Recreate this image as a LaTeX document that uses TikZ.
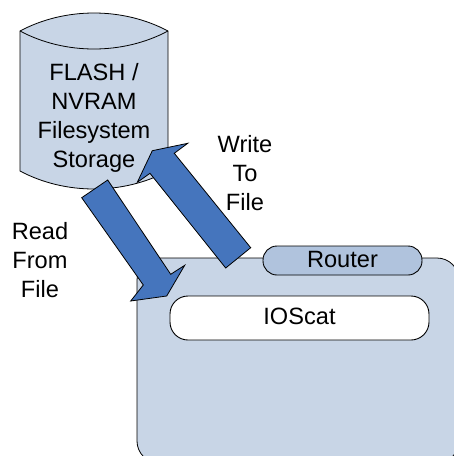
\documentclass[tikz,border=0pt]{standalone}
\usepackage{fontspec}
\setmainfont{Liberation Sans}
\usepackage{tikz}
\usetikzlibrary{positioning,calc}

\definecolor{boxblue}{HTML}{C8D5E6}
\definecolor{pillblue}{HTML}{B0C3DD}
\definecolor{arrowblue}{HTML}{4575BD}

\tikzset{
    label text/.style={align=center, font=\fontsize{23.6}{29}\selectfont, text=black},
    pill/.style={draw=black, line width=0.9pt, rounded corners=14pt, minimum height=29pt, inner sep=0pt},
    big arrow/.style={draw=black, line width=0.8pt, fill=arrowblue, line join=miter}
}

\begin{document}
\begin{tikzpicture}[x=1pt,y=-1pt]
    \useasboundingbox (0,0) rectangle (454,456);

    % Define the outlines of the drum and the router box
    \def\pathDrum{(20,31) .. controls (65,7) and (123,7) .. (168,31) -- (168,171) .. controls (123,195) and (65,195) .. (20,171) -- cycle}
    \def\pathRouter{(137,258) rectangle (459,463)}

    % Draw the storage drum
    \draw[fill=boxblue, line width=0.8pt] \pathDrum;
    \draw[line width=0.8pt] (20,31) .. controls (65,55) and (123,55) .. (168,31);

    % Draw the router box
    \draw[fill=boxblue, line width=0.8pt, rounded corners=22pt] \pathRouter;
    \node[pill, fill=pillblue, minimum width=159pt] (router) at (342.5,260.5) {};
    \node[pill, fill=white, rounded corners=18pt, minimum width=259pt, minimum height=44pt] (ioscat) at (299.5,318) {};

    % Add the arrows
    \draw[big arrow] (81.7,197.7) -- (107.7,180) -- (170.7,274.3) -- (184.7,265.3) -- (166.7,296) -- (130.7,301) -- (143.3,285) -- cycle;
    \draw[big arrow] (250.7,247.7) -- (174.3,153.3) -- (187.7,143.3) -- (152.3,150.7) -- (137.3,182.3) -- (150,173.3) -- (225.7,268) -- cycle;

    % Add labels
    \node[label text] (storagelabel) at (94,118) {FLASH /\\NVRAM\\Filesystem\\Storage};
    \node[label text] (writelabel) at (245,173) {Write\\To\\File};
    \node[label text] (readlabel) at (40,260) {Read\\From\\File};
    \node[label text] (routerlabel) at (342.5,259) {Router};
    \node[label text] (ioscatlabel) at (299.5,316.7) {IOScat};
\end{tikzpicture}
\end{document}
